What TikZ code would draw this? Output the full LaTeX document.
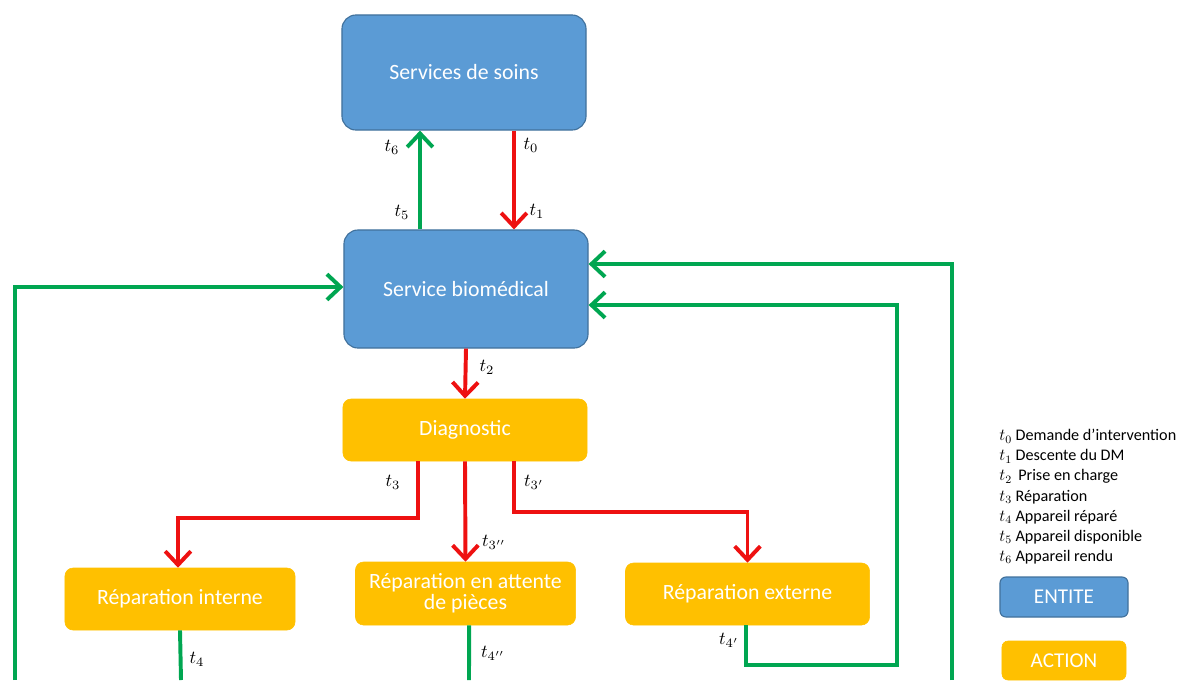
\documentclass[tikz,border=0pt]{standalone}
\usepackage{fontspec}
\setmainfont{Carlito}
\usetikzlibrary{arrows.meta, positioning}

\definecolor{entiteblue}{HTML}{5B9BD5}
\definecolor{entiteborder}{HTML}{41719C}
\definecolor{actionorange}{HTML}{FFC000}
\definecolor{flowred}{HTML}{EE1111}
\definecolor{flowgreen}{HTML}{00A651}

\tikzset{
    entite/.style={draw=entiteborder, line width=0.8pt, fill=entiteblue, rounded corners=0.35cm,
        text=white, font=\fontsize{15.5}{18}\selectfont, minimum width=6.1cm, align=center},
    action/.style={draw=actionorange, fill=actionorange, rounded corners=0.2cm,
        text=white, font=\fontsize{15.5}{18}\selectfont, align=center},
    redflow/.style={draw=flowred, line width=2.8pt, -{Straight Barb[length=3.4mm, width=6.4mm]}},
    greenflow/.style={draw=flowgreen, line width=2.8pt, -{Straight Barb[length=3.4mm, width=6.4mm]}},
    greenline/.style={draw=flowgreen, line width=2.8pt},
    tlabel/.style={scale=1.3}
}

\begin{document}
\begin{tikzpicture}[x=0.025cm, y=-0.025cm]
    \useasboundingbox (0,0) rectangle (1184,680);

    % entites
    \node[entite, minimum height=2.875cm] (soins) at (464,72.5) {Services de soins};
    \node[entite, minimum height=2.95cm] (biomed) at (466,289) {Service biomédical};

    % actions
    \node[action, minimum width=6.1cm, minimum height=1.55cm] (diag) at (465,430) {Diagnostic};
    \node[action, minimum width=5.75cm, minimum height=1.55cm] (interne) at (180,599) {Réparation interne};
    \node[action, minimum width=5.5cm, minimum height=1.575cm, inner sep=2pt] (attente) at (465.5,593.5) {Réparation en attente\\[-3pt]de pièces};
    \node[action, minimum width=6.1cm, minimum height=1.55cm] (externe) at (747.5,594) {Réparation externe};

    % bords bas (lignes coupees)
    \coordinate (bl) at (15,680);
    \coordinate (br) at (952,680);
    \coordinate (bi) at (181,680);
    \coordinate (ba) at (469,680);

    % soins <-> biomed
    \draw[greenflow] ([xshift=-1.15cm]biomed.north) -- ([xshift=-1.15cm]biomed.north |- soins.south);
    \draw[redflow] ([xshift=1.25cm]soins.south) -- ([xshift=1.25cm]soins.south |- biomed.north);
    \draw[redflow] (biomed.south) -- (diag.north);

    % diagnostic -> reparations
    \draw[redflow] ([xshift=-1.175cm]diag.south) -- ++(0,57) -| ([xshift=-0.05cm]interne.north);
    \draw[redflow] (diag.south) -- (attente.north);
    \draw[redflow] ([xshift=1.225cm]diag.south) -- ++(0,51) -| (externe.north);

    % retours
    \draw[greenline] (interne.south) -- (bi);
    \draw[greenline] ([xshift=0.09cm]attente.south) -- (ba);
    \draw[greenflow] ([xshift=-0.04cm]externe.south) |- (897,665) |- ([yshift=-0.4cm]biomed.east);
    \draw[greenflow] (br) |- ([yshift=0.625cm]biomed.east);
    \draw[greenflow] (bl) |- ([yshift=0.05cm]biomed.west);

    % labels
    \node[tlabel] at (392,147) {$t_6$};
    \node[tlabel] at (402,212) {$t_5$};
    \node[tlabel] at (531,145) {$t_0$};
    \node[tlabel] at (537,211) {$t_1$};
    \node[tlabel] at (487,367) {$t_2$};
    \node[tlabel] at (393,482) {$t_3$};
    \node[tlabel] at (534,482) {$t_{3'}$};
    \node[tlabel] at (494,542) {$t_{3''}$};
    \node[tlabel] at (197,659) {$t_4$};
    \node[tlabel] at (493,653) {$t_{4''}$};
    \node[tlabel] at (729,640) {$t_{4'}$};

    % legende
    \node[anchor=north west, align=left, inner sep=0pt, font=\fontsize{11.5}{14.3}\selectfont] (legende) at (999,429)
        {$t_0$ Demande d’intervention\\ $t_1$ Descente du DM\\ $t_2$\, Prise en charge\\ $t_3$ Réparation\\
         $t_4$ Appareil réparé\\ $t_5$ Appareil disponible\\ $t_6$ Appareil rendu};
    \node[entite, minimum width=3.2cm, minimum height=1cm, rounded corners=0.15cm, font=\fontsize{15}{17}\selectfont] (entitekey) at (1064,597) {ENTITE};
    \node[action, minimum width=3.1cm, minimum height=0.975cm, rounded corners=0.15cm, font=\fontsize{15}{17}\selectfont] (actionkey) at (1064,660.5) {ACTION};
\end{tikzpicture}
\end{document}
